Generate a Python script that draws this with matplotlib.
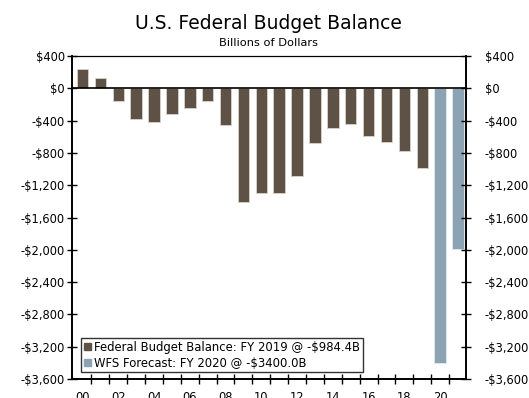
import matplotlib.pyplot as plt
import numpy as np
from matplotlib.patches import Patch
from matplotlib.ticker import FixedLocator, FuncFormatter

# fiscal years 2000-2021, billions of dollars
years = list(range(2000, 2022))
actual = [236, 128, -158, -378, -413, -318, -248, -161, -459, -1413,
          -1294, -1300, -1087, -680, -485, -442, -585, -665, -779, -984]
forecast = [-3400, -1990]

BROWN = "#5e5246"
BLUE = "#8ba3b3"


def money(v, pos=None):
    if v < 0:
        return "-${:,.0f}".format(-v)
    return "${:,.0f}".format(v)


fig = plt.figure(figsize=(5.29, 3.98), dpi=100)
ax = fig.add_axes([0.136, 0.048, 0.745, 0.811])

x = np.arange(len(years))
n_act = len(actual)
ax.bar(x[:n_act], actual, width=0.64, color=BROWN, edgecolor="#d8d2ca", linewidth=0.6, zorder=2)
ax.bar(x[n_act:], forecast, width=0.64, color=BLUE, edgecolor="#e4e9ec", linewidth=0.6, zorder=2)
ax.axhline(0, color="black", linewidth=1.2, zorder=3)

ax.set_ylim(-3600, 400)
ax.set_xlim(-0.59, len(years) - 0.55)
yt = np.arange(-3600, 401, 400)
ax.set_yticks(yt)
ax.yaxis.set_major_formatter(FuncFormatter(money))
ax.tick_params(axis="y", direction="inout", length=7, width=1, labelsize=8.3, pad=1.5)

ax.set_xticks(x[::2])
ax.set_xticklabels(["{:02d}".format(y % 100) for y in years[::2]])
ax.xaxis.set_minor_locator(FixedLocator(x[:-1] + 0.5))
ax.tick_params(axis="x", which="major", length=0, labelsize=8.3, pad=9)
ax.tick_params(axis="x", which="minor", direction="inout", length=7, width=1)

ax2 = ax.twinx()
ax2.set_ylim(ax.get_ylim())
ax2.set_yticks(yt)
ax2.yaxis.set_major_formatter(FuncFormatter(money))
ax2.tick_params(axis="y", direction="inout", length=7, width=1, labelsize=8.3, pad=10)

for a in (ax, ax2):
    for s in a.spines.values():
        s.set_linewidth(1.2)
    a.spines["top"].set_linewidth(0.8)

handles = [Patch(color=BROWN, label="Federal Budget Balance: FY 2019 @ -$984.4B"),
           Patch(color=BLUE, label="WFS Forecast: FY 2020 @ -$3400.0B")]
leg = ax.legend(handles=handles, loc="lower left", bbox_to_anchor=(0.023, 0.02),
                fontsize=8.4, frameon=True, fancybox=False, handlelength=0.6,
                handleheight=0.6, handletextpad=0.3, borderpad=0.25,
                labelspacing=0.25, borderaxespad=0)
leg.get_frame().set_edgecolor("black")
leg.get_frame().set_linewidth(1.0)

fig.text(0.507, 0.94, "U.S. Federal Budget Balance", ha="center", va="center", fontsize=13.5)
fig.text(0.507, 0.893, "Billions of Dollars", ha="center", va="center", fontsize=8.2)

fig.savefig("out.png", dpi=100)
